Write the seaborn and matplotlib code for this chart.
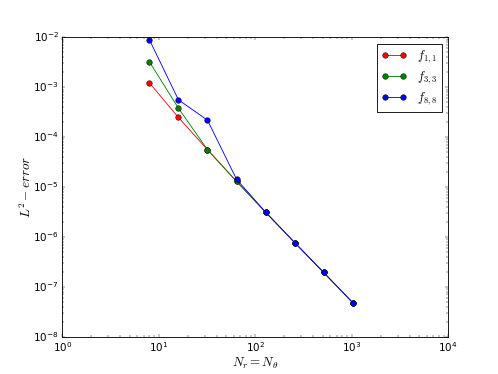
import matplotlib
matplotlib.use("Agg")
import matplotlib.pyplot as plt
import seaborn as sns
import pandas as pd

plt.style.use("classic")

N = [8, 16, 32, 64, 128, 256, 512, 1024]
err_11 = [1.23e-3, 2.48e-4, 5.6e-5, 1.30e-5, 3.13e-6, 7.7e-7, 1.93e-7, 4.8e-8]
err_33 = [3.25e-3, 3.8e-4, 5.6e-5, 1.29e-5, 3.13e-6, 7.7e-7, 1.93e-7, 4.8e-8]
err_88 = [9.0e-3, 5.6e-4, 2.19e-4, 1.43e-5, 3.13e-6, 7.7e-7, 1.93e-7, 4.8e-8]
labels = [r"$f_{1,1}$", r"$f_{3,3}$", r"$f_{8,8}$"]
colors = ["r", "g", "b"]

dpi = 62.25
fig, ax = plt.subplots(figsize=(498 / dpi, 374 / dpi), dpi=dpi)

for errs, lab, col in zip([err_11, err_33, err_88], labels, colors):
    df = pd.DataFrame({"N": N, "err": errs})
    sns.lineplot(data=df, x="N", y="err", ax=ax, color=col, marker="o",
                 markersize=6.5, markeredgecolor="k", markeredgewidth=0.5,
                 linewidth=1, label=lab)

ax.set_xscale("log")
ax.set_yscale("log")
ax.set_xlim(1, 1e4)
ax.set_ylim(1e-8, 1e-2)
ax.set_xlabel(r"$N_r = N_\theta$", fontsize=15, labelpad=2)
ax.set_ylabel(r"$L^2 - error$", fontsize=15, labelpad=-1)
ax.legend(loc="upper right", numpoints=2, labelspacing=0.35)

fig.savefig("out.png", dpi=dpi)
